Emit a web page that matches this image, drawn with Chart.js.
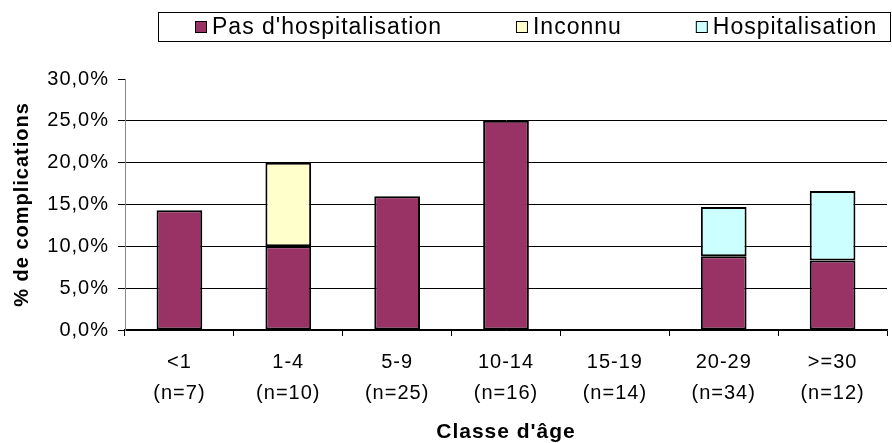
<!DOCTYPE html>
<html>
<head>
<meta charset="utf-8">
<script src="https://cdn.jsdelivr.net/npm/chart.js@4"></script>
<style>
  html, body { margin: 0; padding: 0; background: #fff; }
  #wrap { width: 892px; height: 443px; }
</style>
</head>
<body>
<div id="wrap"><canvas id="myChart" width="892" height="443"></canvas></div>
<script>
// data
const categories = [
  ["<1", "(n=7)"],
  ["1-4", "(n=10)"],
  ["5-9", "(n=25)"],
  ["10-14", "(n=16)"],
  ["15-19", "(n=14)"],
  ["20-29", "(n=34)"],
  [">=30", "(n=12)"],
];
const pasHospitalisation = [0.143, 0.10, 0.16, 0.25, null, 0.088, 0.083];
const inconnu = [null, 0.10, null, null, null, null, null];
const hospitalisation = [null, null, null, null, null, 0.059, 0.083];
const yTickLabels = ["0,0%", "5,0%", "10,0%", "15,0%", "20,0%", "25,0%", "30,0%"];

const FONT = '"Liberation Sans", Arial, sans-serif';
const SPACING = "1px";

// the reference text is drawn with a bit of letter spacing
const spacing = {
  id: "spacing",
  beforeUpdate(chart) { chart.ctx.letterSpacing = SPACING; },
  beforeDraw(chart) { chart.ctx.letterSpacing = SPACING; },
};

// boxed legend like the original
const legendBox = {
  id: "legendBox",
  afterDraw(chart) {
    const ctx = chart.ctx;
    ctx.save();
    ctx.letterSpacing = SPACING;
    ctx.strokeStyle = "#000";
    ctx.lineWidth = 1;
    ctx.strokeRect(158.5, 12.5, 732, 29);
    ctx.font = "23px " + FONT;
    ctx.textBaseline = "middle";
    let x = 195;
    chart.data.datasets.forEach((ds) => {
      ctx.fillStyle = ds.backgroundColor;
      ctx.fillRect(x, 21, 12, 12);
      ctx.strokeRect(x + 0.5, 21.5, 11, 11);
      ctx.fillStyle = "#000";
      ctx.fillText(ds.label, x + 17, 27.5);
      x += 17 + ctx.measureText(ds.label).width + 74;
    });
    ctx.restore();
  },
};

const ctx = document.getElementById("myChart").getContext("2d");

const barStyle = {
  borderColor: "#000",
  borderWidth: 2,
  borderSkipped: false,
  barPercentage: 0.42,
  categoryPercentage: 1,
};

new Chart(ctx, {
  type: "bar",
  data: {
    labels: categories,
    datasets: [
      { label: "Pas d'hospitalisation", data: pasHospitalisation, backgroundColor: "#993366", ...barStyle },
      { label: "Inconnu", data: inconnu, backgroundColor: "#FFFFCC", ...barStyle },
      { label: "Hospitalisation", data: hospitalisation, backgroundColor: "#CCFFFF", ...barStyle },
    ],
  },
  options: {
    responsive: false,
    animation: false,
    layout: { padding: { top: 79, right: 5, left: 0, bottom: 0 } },
    plugins: {
      legend: { display: false },
      tooltip: { enabled: false },
    },
    scales: {
      x: {
        stacked: true,
        afterFit: (scale) => { scale.height = 113; },
        grid: {
          offset: true,
          drawOnChartArea: false,
          tickLength: 6,
          color: "#000",
        },
        border: { color: "#000", width: 1.5 },
        ticks: {
          color: "#000",
          padding: 11,
          font: { family: FONT, size: 20, lineHeight: 1.55 },
        },
        title: {
          display: true,
          text: "Classe d'âge",
          color: "#000",
          padding: { top: 0, bottom: 0 },
          font: { family: FONT, size: 21, weight: "bold", lineHeight: 1 },
        },
      },
      y: {
        stacked: true,
        min: 0,
        max: 0.3,
        afterFit: (scale) => { scale.width = 125; },
        grid: {
          color: (c) => (c.tick && c.tick.value >= 0.3 - 1e-9 ? "rgba(0,0,0,0)" : "#000"),
          tickColor: "#000",
          tickLength: 7,
        },
        border: { color: "#888", width: 1 },
        ticks: {
          stepSize: 0.05,
          color: "#000",
          padding: 9,
          font: { family: FONT, size: 20 },
          callback: (v, i) => yTickLabels[i],
        },
        title: {
          display: true,
          text: "% de complications",
          color: "#000",
          padding: { top: 10, bottom: 0 },
          font: { family: FONT, size: 20, weight: "bold" },
        },
      },
    },
  },
  plugins: [spacing, legendBox],
});
</script>
</body>
</html>
